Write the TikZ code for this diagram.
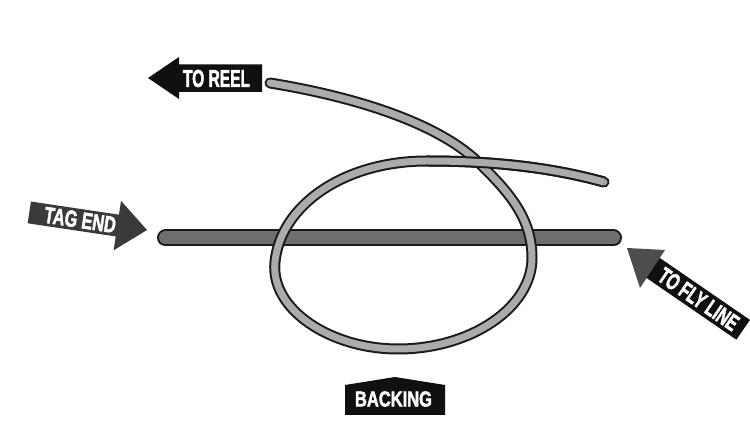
\documentclass[tikz,border=0pt]{standalone}
\usepackage{fontspec}
\usepackage{graphicx}
\setmainfont{Liberation Sans}[BoldFeatures={FakeBold=2.5}]
\definecolor{strand}{HTML}{ABABAB}
\definecolor{barfill}{HTML}{6E6E6E}
\definecolor{outl}{HTML}{1A1A1A}
\definecolor{tagfill}{HTML}{3A3A3A}
\definecolor{headfill}{HTML}{4D4D4D}
\definecolor{labfill}{HTML}{101010}
\tikzset{
  lab/.style={text=white, inner sep=0pt, font=\bfseries},
  strandout/.style={line width=11pt, draw=outl, line cap=round},
  strandin/.style={line width=7pt, draw=strand, line cap=round},
  topout/.style={line width=11pt, draw=outl, line cap=butt},
  topin/.style={line width=7pt, draw=strand, line cap=butt},
  barout/.style={line width=17pt, draw=outl, line cap=round},
  barin/.style={line width=13pt, draw=barfill, line cap=round},
}
\begin{document}
\begin{tikzpicture}[x=1pt,y=-1pt]
\useasboundingbox (0,0) rectangle (750,435);
\fill[white] (0,0) rectangle (750,435);

% fly line (bar)
\coordinate (bl) at (165.5,238);
\coordinate (br) at (613.5,238);
\draw[barout] (bl) -- (br);
\draw[barin] (bl) -- (br);

% backing strand
\coordinate (a0) at (270,83);
\coordinate (a1) at (478,162);
\coordinate (a2) at (532,258);
\coordinate (a3) at (398,349);
\coordinate (a4) at (275,262);
\coordinate (a5) at (427,161);
\coordinate (a6) at (604,182);
\draw[strandout] (a0) .. controls (350,96) and (435,121) .. (a1)
  .. controls (509,192) and (532,218) .. (a2)
  .. controls (532,307.5) and (471,349) .. (a3)
  .. controls (330,349) and (270,309) .. (a4)
  .. controls (280.5,206) and (343,161) .. (a5)
  .. controls (487,161) and (546,166) .. (a6);
\draw[strandin] (a0) .. controls (350,96) and (435,121) .. (a1)
  .. controls (509,192) and (532,218) .. (a2)
  .. controls (532,307.5) and (471,349) .. (a3)
  .. controls (330,349) and (270,309) .. (a4)
  .. controls (280.5,206) and (343,161) .. (a5)
  .. controls (487,161) and (546,166) .. (a6);
% top strand passes over the diagonal
\draw[topout] (a5) .. controls (487,161) and (546,166) .. (a6);
\draw[topin] (a5) .. controls (487,161) and (546,166) .. (a6);

% TO REEL arrow
\fill[labfill] (148,78) -- (179,57) -- (179,64.5) -- (262,64.5) -- (262,92)
  -- (179,92) -- (179,99) -- cycle;
\node[lab] (reel) at (216.5,78.5) {\resizebox{67pt}{17pt}{TO REEL}};

% TAG END arrow
\begin{scope}[shift={(147,230)}, rotate=-8.5]
  \fill[tagfill] (0,0) -- (-30,-25) -- (-30,-11) -- (-119,-11) -- (-119,11)
    -- (-30,11) -- (-30,25) -- cycle;
  \node[lab, rotate=-8.5] (tag) at (-67.5,0) {\resizebox{72pt}{16pt}{TAG END}};
\end{scope}

% TO FLY LINE arrow
\begin{scope}[shift={(652.5,267.5)}, rotate=-34.5]
  \fill[labfill] (-4,-12) rectangle (110,12);
  \node[lab, rotate=-34.5] (fly) at (56,0) {\resizebox{92pt}{16pt}{TO FLY LINE}};
\end{scope}
\fill[headfill] (627,248) -- (665,250) -- (640,288) -- cycle;

% BACKING label
\fill[labfill] (345,385) -- (395,377) -- (445,385) -- (445,415) -- (345,415) -- cycle;
\node[lab] (backing) at (393.5,399) {\resizebox{77pt}{15pt}{BACKING}};
\end{tikzpicture}
\end{document}
